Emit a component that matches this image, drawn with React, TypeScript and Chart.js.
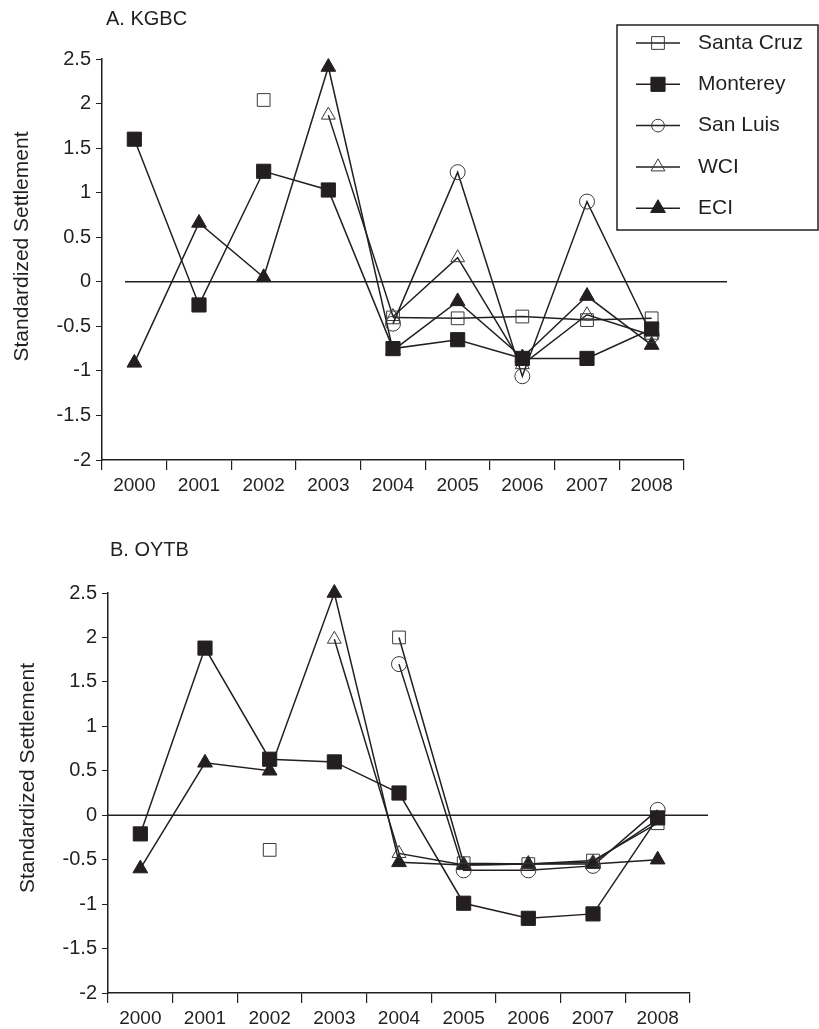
import React, { useEffect, useRef } from 'react';
import { Chart, registerables } from 'chart.js';

Chart.register(...registerables);

const FONT = '"Liberation Sans", Arial, Helvetica, sans-serif';
const INK = '#231f20';

// ---------- data ----------
const years = ['2000', '2001', '2002', '2003', '2004', '2005', '2006', '2007', '2008'];
const yTickMin = -2;
const yTickMax = 2.5;
const yTickStep = 0.5;
const seriesNames = ['Santa Cruz', 'Monterey', 'San Luis', 'WCI', 'ECI'];
const yTitle = 'Standardized Settlement';
const panelTitles = ['A. KGBC', 'B. OYTB'];

// Panel A: KGBC
const kgbcSantaCruz = [null, null, 2.04, null, -0.4, -0.41, -0.39, -0.43, -0.41];
const kgbcMonterey = [1.6, -0.26, 1.24, 1.03, -0.75, -0.65, -0.86, -0.86, -0.53];
const kgbcSanLuis = [null, null, null, null, -0.47, 1.23, -1.06, 0.9, -0.6];
const kgbcWCI = [null, null, null, 1.87, -0.39, 0.27, -0.93, -0.37, -0.6];
const kgbcECI = [-0.91, 0.66, 0.05, 2.41, -0.77, -0.22, -0.85, -0.16, -0.71];

// Panel B: OYTB
const oytbSantaCruz = [null, null, -0.39, null, 2.0, -0.54, -0.55, -0.51, -0.09];
const oytbMonterey = [-0.21, 1.88, 0.63, 0.6, 0.25, -0.99, -1.16, -1.11, -0.03];
const oytbSanLuis = [null, null, null, null, 1.7, -0.62, -0.62, -0.57, 0.06];
const oytbWCI = [null, null, null, 1.98, -0.43, -0.56, -0.55, -0.53, -0.05];
const oytbECI = [-0.6, 0.59, 0.5, 2.5, -0.53, -0.56, -0.55, -0.55, -0.5];

// ---------- styles ----------
type MarkerStyle = { pointStyle: 'rect' | 'circle' | 'triangle'; radius: number; filled: boolean };
const seriesStyles: MarkerStyle[] = [
  { pointStyle: 'rect', radius: 9, filled: false },
  { pointStyle: 'rect', radius: 10, filled: true },
  { pointStyle: 'circle', radius: 7.5, filled: false },
  { pointStyle: 'triangle', radius: 8, filled: false },
  { pointStyle: 'triangle', radius: 8.5, filled: true },
];
const legendMarkerScale = [1, 1, 0.85, 1, 1];
const seriesOrder = [2, 0, 1, 1, 1];
const OPEN_FILL = 'rgba(255,255,255,0)';
const OPEN_STROKE = '#3a3a3a';

function makeDatasets(values: (number | null)[][]) {
  return values.map((data, i) => {
    const st = seriesStyles[i];
    return {
      label: seriesNames[i],
      data,
      order: seriesOrder[i],
      borderColor: INK,
      borderWidth: 1.5,
      pointStyle: st.pointStyle,
      pointRadius: st.radius,
      pointHoverRadius: st.radius,
      pointBackgroundColor: st.filled ? INK : OPEN_FILL,
      pointBorderColor: st.filled ? INK : OPEN_STROKE,
      pointBorderWidth: 1,
      fill: false,
      tension: 0,
      spanGaps: false,
      clip: false,
    };
  });
}

function drawMarker(ctx: CanvasRenderingContext2D, st: MarkerStyle, x: number, y: number, scale = 1) {
  ctx.beginPath();
  const r = st.radius * scale;
  if (st.pointStyle === 'rect') {
    const s = r * Math.SQRT1_2;
    ctx.rect(x - s, y - s, 2 * s, 2 * s);
  } else if (st.pointStyle === 'circle') {
    ctx.arc(x, y, r, 0, Math.PI * 2);
  } else {
    ctx.moveTo(x, y - r);
    ctx.lineTo(x + r * Math.sin((2 * Math.PI) / 3), y + r * 0.5);
    ctx.lineTo(x - r * Math.sin((2 * Math.PI) / 3), y + r * 0.5);
    ctx.closePath();
  }
  if (st.filled) {
    ctx.fillStyle = INK;
    ctx.fill();
  }
  ctx.lineWidth = 1;
  ctx.strokeStyle = st.filled ? INK : OPEN_STROKE;
  ctx.stroke();
}

const zeroLinePlugin = {
  id: 'zeroLine',
  beforeDatasetsDraw(chart: any, _args: any, opts: any) {
    const ctx = chart.ctx as CanvasRenderingContext2D;
    const y = chart.scales.y.getPixelForValue(0);
    const { left, right } = chart.chartArea;
    ctx.save();
    ctx.beginPath();
    ctx.moveTo(left + (opts.startInset || 0), y);
    ctx.lineTo(right + (opts.endOverhang || 0), y);
    ctx.lineWidth = 1.5;
    ctx.strokeStyle = INK;
    ctx.stroke();
    ctx.restore();
  },
};

const yTitlePlugin = {
  id: 'yTitle',
  afterDraw(chart: any, _args: any, opts: any) {
    const ctx = chart.ctx as CanvasRenderingContext2D;
    const { top, bottom } = chart.chartArea;
    const cy = (top + bottom) / 2 + (opts.dy || 0);
    ctx.save();
    ctx.translate(opts.x, cy);
    ctx.rotate(-Math.PI / 2);
    ctx.font = `21px ${FONT}`;
    ctx.fillStyle = INK;
    ctx.textAlign = 'center';
    ctx.textBaseline = 'middle';
    ctx.fillText(opts.text, 0, 0);
    ctx.restore();
  },
};

const boxLegendPlugin = {
  id: 'boxLegend',
  afterDraw(chart: any, _args: any, opts: any) {
    if (!opts || !opts.show) return;
    const ctx = chart.ctx as CanvasRenderingContext2D;
    const { x, y, w, h, rowTop, rowGap, lineX0, lineX1, textX } = opts;
    ctx.save();
    ctx.lineWidth = 1.5;
    ctx.strokeStyle = INK;
    ctx.strokeRect(x, y, w, h);
    ctx.font = `21px ${FONT}`;
    ctx.textBaseline = 'middle';
    ctx.textAlign = 'left';
    seriesNames.forEach((name, i) => {
      const ry = rowTop + i * rowGap;
      ctx.beginPath();
      ctx.moveTo(lineX0, ry);
      ctx.lineTo(lineX1, ry);
      ctx.lineWidth = 1.5;
      ctx.strokeStyle = INK;
      ctx.stroke();
      drawMarker(ctx, seriesStyles[i], (lineX0 + lineX1) / 2, ry, legendMarkerScale[i]);
      ctx.fillStyle = INK;
      ctx.fillText(name, textX, ry);
    });
    ctx.restore();
  },
};

type PanelLayout = {
  top: number;
  yWidth: number;
  xHeight: number;
  right: number;
  titleX: number;
  titleDy: number;
  zeroStart: number;
  zeroEnd: number;
  legend: boolean;
};

function buildConfig(values: (number | null)[][], L: PanelLayout): any {
  return {
    type: 'line',
    data: { labels: years, datasets: makeDatasets(values) },
    plugins: [zeroLinePlugin, boxLegendPlugin, yTitlePlugin],
    options: {
      animation: false,
      responsive: false,
      devicePixelRatio: 1,
      events: [],
      layout: { padding: { top: L.top, right: L.right, left: 0, bottom: 0 } },
      plugins: {
        legend: { display: false },
        tooltip: { enabled: false },
        title: { display: false },
        zeroLine: { startInset: L.zeroStart, endOverhang: L.zeroEnd },
        yTitle: { text: yTitle, x: L.titleX, dy: L.titleDy },
        boxLegend: {
          show: L.legend,
          x: 617,
          y: 25,
          w: 201,
          h: 205,
          rowTop: 43,
          rowGap: 41.3,
          lineX0: 636,
          lineX1: 680,
          textX: 698,
        },
      },
      scales: {
        x: {
          type: 'category',
          offset: true,
          grid: {
            display: true,
            offset: true,
            drawOnChartArea: false,
            drawTicks: true,
            tickLength: 10,
            color: INK,
            lineWidth: 1.2,
          },
          border: { display: true, color: INK, width: 1.5 },
          ticks: {
            color: INK,
            font: { family: FONT, size: 19 },
            padding: 4,
            maxRotation: 0,
            autoSkip: false,
          },
          afterFit: (scale: any) => {
            scale.height = L.xHeight;
          },
        },
        y: {
          type: 'linear',
          min: yTickMin,
          max: yTickMax,
          grid: {
            display: true,
            drawOnChartArea: false,
            drawTicks: true,
            tickLength: 6,
            color: INK,
            lineWidth: 1,
          },
          border: { display: true, color: INK, width: 1.5 },
          ticks: {
            stepSize: yTickStep,
            color: INK,
            font: { family: FONT, size: 20 },
            padding: 5,
            callback: (v: any) => String(v),
          },
          title: { display: false },
          afterFit: (scale: any) => {
            scale.width = L.yWidth;
          },
        },
      },
    },
  };
}

const layoutA: PanelLayout = {
  top: 59,
  yWidth: 102,
  xHeight: 60,
  right: 135,
  titleX: 22,
  titleDy: -13,
  zeroStart: 23,
  zeroEnd: 43,
  legend: true,
};
const layoutB: PanelLayout = {
  top: 73,
  yWidth: 108,
  xHeight: 36,
  right: 129,
  titleX: 28,
  titleDy: -15,
  zeroStart: 0,
  zeroEnd: 18,
  legend: false,
};

export default function App() {
  const refA = useRef<HTMLCanvasElement>(null);
  const refB = useRef<HTMLCanvasElement>(null);

  useEffect(() => {
    const a = new Chart(
      refA.current!,
      buildConfig([kgbcSantaCruz, kgbcMonterey, kgbcSanLuis, kgbcWCI, kgbcECI], layoutA)
    );
    const b = new Chart(
      refB.current!,
      buildConfig([oytbSantaCruz, oytbMonterey, oytbSanLuis, oytbWCI, oytbECI], layoutB)
    );
    return () => {
      a.destroy();
      b.destroy();
    };
  }, []);

  const titleStyle: React.CSSProperties = {
    position: 'absolute',
    fontFamily: FONT,
    fontSize: 20,
    lineHeight: '20px',
    color: INK,
    whiteSpace: 'nowrap',
  };

  return (
    <div
      style={{
        position: 'absolute',
        left: 0,
        top: 0,
        width: 819,
        height: 1029,
        background: '#ffffff',
        overflow: 'hidden',
      }}
    >
      <canvas
        ref={refA}
        width={819}
        height={520}
        style={{ position: 'absolute', left: 0, top: 0, width: 819, height: 520 }}
      />
      <canvas
        ref={refB}
        width={819}
        height={509}
        style={{ position: 'absolute', left: 0, top: 520, width: 819, height: 509 }}
      />
      <div style={{ ...titleStyle, left: 106, top: 8 }}>{panelTitles[0]}</div>
      <div style={{ ...titleStyle, left: 110, top: 539 }}>{panelTitles[1]}</div>
    </div>
  );
}
